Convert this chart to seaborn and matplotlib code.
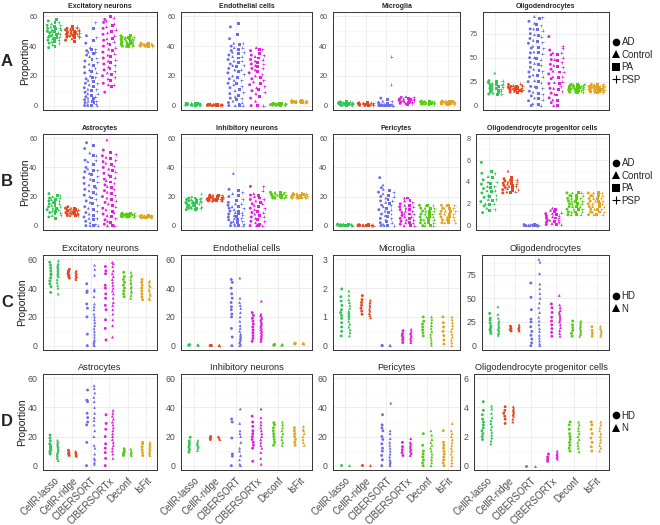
import numpy as np
import pandas as pd
import matplotlib
matplotlib.use("Agg")
import matplotlib.pyplot as plt
import seaborn as sns
from matplotlib.lines import Line2D
from matplotlib.ticker import MultipleLocator

METHODS = ["CellR-lasso", "CellR-ridge", "CIBERSORT", "CIBERSORTx", "Deconf", "IsFit"]
GROUPS_AB = ["AD", "Control", "PA", "PSP"]
GROUPS_CD = ["HD", "N"]

# estimated proportions, one list per group, per method
A_EXC = {
    "CellR-lasso": [[39, 42, 44, 46, 47, 49, 50, 52, 54, 57], [41, 43, 45, 47, 48, 50, 51, 53, 55],
                    [40, 43, 45, 46, 48, 50, 52, 53, 56, 58], [42, 44, 46, 48, 49, 51, 52, 54, 56]],
    "CellR-ridge": [[44, 46, 47, 48, 49, 50, 51, 52], [45, 47, 48, 49, 50, 51, 52],
                    [43, 46, 47, 48, 49, 50, 51, 53], [46, 47, 48, 49, 50, 51, 52, 53]],
    "CIBERSORT": [[0, 2, 4, 6, 9, 12, 15, 18, 22, 26, 30, 34, 37, 42, 47],
                  [0, 1, 3, 5, 8, 11, 14, 17, 20, 24, 28, 33, 36, 39],
                  [0, 2, 3, 5, 7, 10, 13, 16, 19, 23, 27, 31, 35, 38, 44, 52],
                  [0, 1, 3, 6, 8, 11, 15, 19, 22, 25, 29, 32, 36, 38, 46, 56]],
    "CIBERSORTx": [[9, 15, 20, 24, 28, 32, 36, 40, 44, 48, 52, 56, 58],
                   [14, 18, 22, 26, 30, 34, 38, 42, 45, 49, 53, 57],
                   [13, 17, 21, 25, 29, 33, 37, 41, 45, 50, 54, 60],
                   [14, 19, 23, 27, 31, 35, 39, 43, 47, 51, 55, 59]],
    "Deconf": [[40, 41, 42, 43, 44, 45, 46, 47], [40, 41, 42, 43, 44, 45, 46],
               [40, 41, 42, 43, 44, 45, 46, 47], [40, 41, 42, 43, 44, 45, 46]],
    "IsFit": [[40, 40.5, 41, 41.5, 42], [40, 40.5, 41, 41.5], [40, 40.5, 41, 41.5, 42], [40, 40.5, 41, 41.5]],
}
A_ENDO = {
    "CellR-lasso": [[0.3, 0.6, 0.9, 1.2, 1.5]] * 4,
    "CellR-ridge": [[0.1, 0.3, 0.5, 0.7, 0.9]] * 4,
    "CIBERSORT": [[0, 2, 5, 8, 12, 15, 18, 22, 25, 28, 31, 34, 37, 40, 45, 53],
                  [0, 3, 6, 10, 14, 17, 20, 24, 27, 30, 33, 36, 39, 42],
                  [0, 1, 4, 7, 11, 15, 19, 23, 26, 29, 32, 35, 38, 41, 48, 55],
                  [0, 2, 5, 9, 13, 17, 21, 24, 27, 30, 33, 36, 39, 42]],
    "CIBERSORTx": [[0, 5, 10, 14, 18, 22, 25, 28, 31, 34, 37], [3, 8, 12, 16, 20, 24, 27, 30, 33, 39],
                   [0, 6, 11, 15, 19, 23, 26, 29, 32, 35, 38], [0, 9, 13, 17, 21, 25, 28, 31, 34, 38]],
    "Deconf": [[0.3, 0.6, 0.9, 1.2, 1.5]] * 4,
    "IsFit": [[2.0, 2.3, 2.6, 2.9, 3.2]] * 4,
}
A_MICRO = {
    "CellR-lasso": [[0.3, 0.8, 1.2, 1.6, 2.0, 2.5]] * 4,
    "CellR-ridge": [[0.2, 0.6, 1.0, 1.4, 1.8]] * 4,
    "CIBERSORT": [[0, 0, 0.5, 1, 2, 5], [0, 0, 0.5, 1, 3], [0, 0, 0.5, 1.5, 4], [0, 0, 1, 3, 14, 33]],
    "CIBERSORTx": [[1.5, 2.5, 3.5, 4.5, 5.5], [1.5, 2.5, 3.5, 4.5, 6], [1, 2, 3, 4, 5], [1.5, 2.5, 3.5, 4.5, 5.5]],
    "Deconf": [[1, 1.5, 2, 2.5, 3]] * 4,
    "IsFit": [[1, 1.5, 2, 2.5, 3]] * 4,
}
A_OLIGO = {
    "CellR-lasso": [[12, 14, 16, 18, 20, 22, 24, 26], [13, 15, 17, 19, 21, 23, 34],
                    [12, 14, 16, 18, 20, 22, 25], [12, 15, 17, 19, 21, 23, 26]],
    "CellR-ridge": [[14, 16, 17, 18, 19, 20, 22], [15, 16, 17, 18, 19, 21],
                    [14, 16, 17, 18, 19, 20], [15, 16, 17, 18, 20, 21, 23]],
    "CIBERSORT": [[0, 5, 10, 15, 20, 25, 30, 35, 40, 45, 50, 55, 60, 65, 70, 75, 80, 88],
                  [2, 8, 14, 20, 26, 32, 38, 44, 50, 56, 62, 68, 74, 80, 86, 93],
                  [1, 7, 13, 19, 25, 31, 37, 43, 49, 55, 61, 67, 73, 79, 85, 91],
                  [0, 6, 12, 18, 24, 30, 36, 42, 48, 54, 60, 66, 72, 78, 84, 92]],
    "CIBERSORTx": [[3, 8, 13, 18, 23, 28, 33, 38, 43, 48, 53, 58, 72], [0, 6, 12, 18, 24, 30, 36, 42, 48, 55],
                   [0, 5, 11, 17, 23, 29, 35, 41, 47, 53], [15, 20, 25, 30, 35, 40, 45, 50, 55, 60, 62]],
    "Deconf": [[14, 16, 17, 18, 19, 20, 21, 22]] * 4,
    "IsFit": [[14, 15, 16, 17, 18, 19, 20, 21, 22]] * 4,
}
B_ASTRO = {
    "CellR-lasso": [[6, 9, 11, 13, 15, 17, 19, 22], [7, 10, 12, 14, 16, 18, 20],
                    [5, 8, 10, 12, 14, 16, 18, 21], [7, 9, 11, 13, 15, 17, 19, 21]],
    "CellR-ridge": [[7, 8, 9, 10, 11, 12, 13], [7, 8, 9, 10, 11, 12], [7, 8, 9, 10, 11, 12], [7, 8, 9, 10, 11]],
    "CIBERSORT": [[0, 3, 6, 9, 13, 17, 21, 25, 29, 33, 37, 40, 45, 53, 57],
                  [0, 2, 5, 8, 12, 16, 20, 24, 28, 32, 36, 39, 44, 50],
                  [0, 4, 7, 11, 15, 19, 23, 27, 31, 35, 38, 42, 48, 55],
                  [0, 1, 5, 10, 14, 18, 22, 26, 30, 34, 38, 45, 48]],
    "CIBERSORTx": [[1, 4, 8, 12, 16, 20, 24, 28, 32, 36, 40, 44, 48, 52],
                   [0, 3, 7, 11, 15, 19, 23, 27, 31, 35, 39, 43, 47, 59],
                   [0, 2, 6, 10, 14, 18, 22, 26, 30, 34, 38, 42, 46, 50],
                   [0, 5, 9, 13, 17, 21, 25, 29, 33, 37, 41, 45, 49]],
    "Deconf": [[6, 6.5, 7, 7.5, 8, 8.5]] * 4,
    "IsFit": [[5.5, 6, 6.5, 7]] * 4,
}
B_INH = {
    "CellR-lasso": [[11, 12, 13, 14, 15, 16, 17, 18, 19], [12, 13, 14, 15, 16, 17, 18, 20],
                    [11, 12, 14, 15, 16, 17, 18, 19], [12, 13, 15, 16, 17, 18, 19, 22]],
    "CellR-ridge": [[17, 17.5, 18, 18.5, 19, 19.5, 20, 21]] * 4,
    "CIBERSORT": [[0, 2, 4, 6, 8, 10, 12, 14, 16, 20, 25], [0, 1, 3, 5, 7, 9, 11, 13, 15, 22, 36],
                  [0, 2, 4, 6, 8, 10, 13, 17, 21, 24], [0, 1, 3, 5, 7, 9, 12, 15, 18, 23]],
    "CIBERSORTx": [[0, 3, 6, 9, 12, 15, 18, 21, 27], [0, 2, 5, 8, 11, 14, 17, 20, 22],
                   [0, 1, 4, 7, 10, 13, 16, 19, 21], [0, 3, 6, 9, 12, 15, 18, 24, 27]],
    "Deconf": [[19, 20, 21, 22, 23]] * 4,
    "IsFit": [[19, 19.5, 20, 20.5, 21, 21.5, 22]] * 4,
}
B_PERI = {
    "CellR-lasso": [[0, 0.3, 0.6, 1.0]] * 4,
    "CellR-ridge": [[0, 0.2, 0.4, 0.6]] * 4,
    "CIBERSORT": [[0, 2, 5, 8, 11, 14, 17, 20, 23, 26, 33], [0, 1, 4, 7, 10, 13, 16, 19, 22, 25, 28],
                  [0, 3, 6, 9, 12, 15, 18, 21, 24], [0, 2, 5, 8, 11, 14, 17, 20, 23]],
    "CIBERSORTx": [[1, 3, 5, 7, 9, 11, 13, 15], [0, 2, 4, 6, 8, 10, 12, 14, 17, 19],
                   [0, 2, 5, 8, 11, 14, 17, 19], [0, 2, 4, 6, 8, 10, 13, 16]],
    "Deconf": [[0, 2, 4, 6, 8, 10, 12, 14]] * 4,
    "IsFit": [[2, 4, 6, 8, 10, 12, 14]] * 4,
}
B_OPC = {
    "CellR-lasso": [[1.2, 1.8, 2.2, 2.6, 3, 3.4, 3.8, 4.2, 4.8, 5.8], [1.6, 2.0, 2.4, 2.8, 3.2, 3.6, 4.0, 4.5],
                    [1.4, 1.9, 2.3, 2.7, 3.1, 3.5, 3.9, 4.4, 5.0], [1.5, 2.0, 2.4, 2.8, 3.2, 3.6, 4.0, 4.8]],
    "CellR-ridge": [[3.0, 3.3, 3.5, 3.7, 3.9, 4.1, 4.3], [3.1, 3.4, 3.6, 3.8, 4.0, 4.2, 5.0],
                    [3.0, 3.2, 3.5, 3.7, 3.9, 4.1, 4.4], [3.1, 3.3, 3.6, 3.8, 4.0, 4.2]],
    "CIBERSORT": [[0, 0, 0.05, 0.1]] * 4,
    "CIBERSORTx": [[0.1, 0.3, 0.5, 0.7, 0.9, 1.1], [0.2, 0.5, 0.8, 1.1, 1.4, 1.6],
                   [0.1, 0.4, 0.7, 1.0, 1.3, 1.5], [0.1, 0.3, 0.5, 0.7, 0.9, 1.2]],
    "Deconf": [[1.0, 1.25, 1.5, 1.75, 2.0, 2.25, 2.5, 2.75, 3.0]] * 4,
    "IsFit": [[1.0, 1.25, 1.5, 1.75, 2.0, 2.25, 2.5, 2.75, 3.0]] * 4,
}
C_EXC = {
    "CellR-lasso": [[37, 41, 43, 45, 47, 49, 50, 52, 54, 56, 58],
                    [36, 40, 42, 44, 46, 48, 49, 50, 51, 52, 53, 54, 55, 56, 57, 59]],
    "CellR-ridge": [[47, 48, 49, 50, 51, 52, 53], [46, 47, 48, 49, 50, 51, 52]],
    "CIBERSORT": [[0, 8, 20, 26, 29, 37, 38, 43],
                  [0, 1, 2, 3, 4, 6, 8, 10, 12, 14, 16, 18, 20, 22, 25, 27, 29, 34, 38, 39, 49, 53, 56]],
    "CIBERSORTx": [[4, 12, 18, 25, 28, 33, 36, 40, 42, 50, 52, 55],
                   [6, 14, 18, 22, 25, 28, 30, 33, 36, 38, 40, 42, 44, 46, 48, 50, 52, 55, 57, 58]],
    "Deconf": [[34, 36, 38, 40, 42, 44, 46, 48, 51], [33, 35, 37, 38, 40, 41, 43, 44, 46, 48, 49, 51]],
    "IsFit": [[32, 34, 36, 38, 40, 42, 44, 46], [32, 33, 35, 36, 38, 39, 41, 42, 44, 45]],
}
C_ENDO = {
    "CellR-lasso": [[0.3, 0.5, 0.7], [0.3, 0.5, 0.7]],
    "CellR-ridge": [[0, 0.1, 0.2], [0, 0.1, 0.2]],
    "CIBERSORT": [[0, 6, 12, 20, 22, 25, 27, 30, 33, 36, 40, 44, 46],
                  [0, 1, 2, 3, 4, 5, 6, 7, 8, 10, 12, 14, 17, 20, 23, 26, 28, 30, 33, 47]],
    "CIBERSORTx": [[3, 5, 7, 9, 11, 13, 15, 17, 19, 21, 23],
                   [3, 4, 5, 6, 7, 8, 9, 10, 11, 12, 13, 14, 15, 16, 17, 18, 19, 20, 21, 22, 31]],
    "Deconf": [[0.3, 0.6, 0.9], [0.3, 0.6, 0.9]],
    "IsFit": [[1.2, 1.5, 1.8], [1.2, 1.5, 1.8]],
}
C_MICRO = {
    "CellR-lasso": [[0.34, 0.5, 0.65, 0.8, 0.95, 1.05, 1.15, 1.25, 1.4, 1.55, 1.7, 1.97],
                    [0.34, 0.45, 0.55, 0.65, 0.75, 0.85, 0.95, 1.0, 1.05, 1.1, 1.15, 1.2, 1.3, 1.4, 1.5, 1.6, 1.75, 1.9]],
    "CellR-ridge": [[1.09, 1.2, 1.3, 1.4, 1.5, 1.6, 1.74], [0.97, 1.05, 1.12, 1.2, 1.27, 1.35, 1.42, 1.5, 1.58]],
    "CIBERSORT": [[0, 0.01], [0, 0.01]],
    "CIBERSORTx": [[0.11, 0.2, 0.28, 0.35, 0.42, 0.52], [0.11, 0.18, 0.24, 0.3, 0.36, 0.42, 0.48, 0.57]],
    "Deconf": [[0.34, 0.45, 0.55, 0.65, 0.75, 0.85, 1.0], [0.02, 0.1, 0.2, 0.3, 0.4, 0.5, 0.6, 0.7, 0.8, 0.9, 1.0]],
    "IsFit": [[0.06, 0.2, 0.35, 0.5, 0.65, 0.8, 1.0], [0, 0.1, 0.2, 0.3, 0.4, 0.5, 0.6, 0.7, 0.8, 0.9, 1.0]],
}
C_OLIGO = {
    "CellR-lasso": [[13, 15, 17, 19, 21, 24, 27, 29, 34], [11, 13, 14, 16, 17, 19, 20, 22, 24, 26, 29, 33, 41]],
    "CellR-ridge": [[15.5, 17, 18.5, 20.5], [15.5, 17, 18, 19, 20, 22]],
    "CIBERSORT": [[0, 3, 7, 11, 15, 20, 25, 28, 38, 51, 66],
                  [0, 2, 5, 8, 11, 15, 18, 22, 26, 30, 35, 40, 45, 50, 55, 60, 65, 76, 88, 91]],
    "CIBERSORTx": [[10, 14, 18, 22, 26, 30, 35, 40, 44], [10, 13, 16, 19, 22, 25, 27, 29, 31, 33, 35, 37, 40, 43, 53]],
    "Deconf": [[10, 13, 16, 19, 22, 26], [10, 12, 14, 16, 18, 20, 22, 24, 26]],
    "IsFit": [[10, 13, 16, 20], [10, 12, 14, 16, 18, 20.5]],
}
D_ASTRO = {
    "CellR-lasso": [[8, 9, 10, 11, 12, 13, 14, 15, 17, 19, 21], [3.5, 5, 6, 7, 8, 9, 10, 11, 12, 13, 14, 15, 16, 17.4]],
    "CellR-ridge": [[7, 8, 9, 10.5], [6.5, 7, 7.5, 8, 8.5, 9, 9.8]],
    "CIBERSORT": [[0, 16, 28, 30, 33, 36, 44, 45, 52],
                  [1, 2, 4, 5, 8, 12, 14, 20, 24, 28, 31, 33, 36, 40, 44, 47, 50, 53, 55]],
    "CIBERSORTx": [[0, 5, 9, 12, 15, 20, 25, 29, 35], [5, 8, 10, 12, 14, 16, 18, 20, 22, 24, 26, 28, 30, 32, 34, 36, 38]],
    "Deconf": [[7, 8, 9, 10, 11.6], [7, 8, 9, 10, 11.5]],
    "IsFit": [[7, 9, 11, 13, 15, 16], [7, 8, 9, 10, 11, 12, 13, 14, 15, 16]],
}
D_INH = {
    "CellR-lasso": [[9.3, 11, 12.5, 14, 15.5, 17, 19.5], [10.5, 12, 13, 14, 15, 16, 17.4]],
    "CellR-ridge": [[18, 19, 20], [18, 19, 20]],
    "CIBERSORT": [[0, 6.5, 8, 19, 30, 32], [0, 1, 4, 7, 10, 12, 16, 20, 22, 24, 29, 39]],
    "CIBERSORTx": [[3, 12, 14, 16, 18, 20, 22, 24, 27, 30, 34], [1, 5, 9, 12, 14, 16, 18, 20, 22, 24, 26, 28, 30, 33, 39]],
    "Deconf": [[14, 16, 18, 20, 22, 24, 26, 28, 29.5], [14, 16, 18, 20, 22, 24, 26, 28, 30]],
    "IsFit": [[14, 16, 18, 20, 22, 24, 26], [14, 16, 18, 20, 22, 24, 25, 27]],
}
D_PERI = {
    "CellR-lasso": [[0.3], [0.3]],
    "CellR-ridge": [[0.3], [0.3]],
    "CIBERSORT": [[0, 4, 7, 10, 12, 15, 18, 20, 24, 26, 28, 35], [0, 1, 2, 3, 4, 6, 8, 10, 12, 14, 16, 18.6, 22, 24, 43]],
    "CIBERSORTx": [[7, 9, 11, 13, 16], [7, 8, 9, 10, 11, 12, 13, 14, 15, 16, 18.6]],
    "Deconf": [[0, 2, 4, 6, 8, 10, 14, 22], [0, 2, 4, 6, 8, 10, 12, 14, 16, 18, 21, 24]],
    "IsFit": [[0, 2, 4, 6, 8, 10, 12, 14, 16, 24], [0, 2, 4, 6, 8, 10, 12, 14, 16, 18, 20, 22, 24, 29]],
}
D_OPC = {
    "CellR-lasso": [[1.8, 2.0, 2.2, 2.4, 2.6, 2.8, 3.0, 3.2, 3.5, 3.8, 4.4],
                    [1.5, 1.7, 1.9, 2.1, 2.3, 2.5, 2.7, 2.9, 3.1, 3.3, 3.6, 3.9, 4.1]],
    "CellR-ridge": [[2.9, 3.2, 3.4, 3.6, 3.8, 4.05], [3.0, 3.2, 3.4, 3.5, 3.6, 3.7, 3.8, 3.9, 4.05]],
    "CIBERSORT": [[0], [0]],
    "CIBERSORTx": [[0.3, 0.45, 0.6, 0.8], [0.45, 0.55, 0.65, 0.75, 0.85, 1.0]],
    "Deconf": [[1.0, 1.2, 1.4, 1.6, 1.8, 2.0, 2.2, 2.5, 2.8, 3.0], [0.95, 1.2, 1.4, 1.6, 1.8, 2.0, 2.2, 2.4, 2.6, 2.8, 3.0]],
    "IsFit": [[1.0, 1.3, 1.6, 1.9, 2.2, 2.5, 2.8, 3.0], [1.0, 1.2, 1.4, 1.6, 1.8, 2.0, 2.2, 2.4, 2.6, 2.8, 3.0]],
}

# row letter, groups, panels (title, data, fixed y top or None, tick step)
ROWS = [
    ("A", GROUPS_AB, [("Excitatory neurons", A_EXC, 60, 20), ("Endothelial cells", A_ENDO, 60, 20),
                      ("Microglia", A_MICRO, 60, 20), ("Oligodendrocytes", A_OLIGO, None, 25)]),
    ("B", GROUPS_AB, [("Astrocytes", B_ASTRO, 60, 20), ("Inhibitory neurons", B_INH, 60, 20),
                      ("Pericytes", B_PERI, 60, 20), ("Oligodendrocyte progenitor cells", B_OPC, 8, 2)]),
    ("C", GROUPS_CD, [("Excitatory neurons", C_EXC, 60, 20), ("Endothelial cells", C_ENDO, 60, 20),
                      ("Microglia", C_MICRO, 3, 1), ("Oligodendrocytes", C_OLIGO, None, 25)]),
    ("D", GROUPS_CD, [("Astrocytes", D_ASTRO, 60, 20), ("Inhibitory neurons", D_INH, 60, 20),
                      ("Pericytes", D_PERI, 60, 20), ("Oligodendrocyte progenitor cells", D_OPC, 6, 2)]),
]

METHOD_COLORS = ["#2DC653", "#E4471E", "#6C6CEB", "#E21CE0", "#55CC12", "#E2A41C"]
MARKERS = {"AD": "o", "Control": "^", "PA": "s", "PSP": "+", "HD": "o", "N": "^"}

sns.set_theme(style="white")
plt.rcParams["font.family"] = ["Liberation Sans", "DejaVu Sans"]

W, H = 660, 525
fig = plt.figure(figsize=(6.6, 5.25), dpi=100)

ROW_Y = {"A": (12, 110), "B": (134, 230), "C": (255, 350), "D": (374, 470)}
COL_X = [(43, 157), (181, 312), (333, 460), (None, 609)]
COL4_LEFT = {"A": 483, "B": 476, "C": 482, "D": 474}


def to_frame(values, groups):
    rows = []
    for m, per_group in values.items():
        for g, vals in zip(groups, per_group):
            for v in vals:
                rows.append((m, g, v))
    return pd.DataFrame(rows, columns=["method", "group", "value"])


np.random.seed(3)
for letter, groups, panels in ROWS:
    top, bottom = ROW_Y[letter]
    small = letter in ("A", "B")
    for ci, (title, values, ytop, step) in enumerate(panels):
        left, right = COL_X[ci]
        if ci == 3:
            left = COL4_LEFT[letter]
        ax = fig.add_axes([left / W, 1 - bottom / H, (right - left) / W, (bottom - top) / H])
        df = to_frame(values, groups)
        for g in groups:
            n0 = len(ax.collections)
            sns.stripplot(data=df[df["group"] == g], x="method", y="value",
                          hue="group", order=METHODS, hue_order=groups, dodge=True,
                          jitter=0.32 if small else 0.07, marker=MARKERS[g], size=2.1,
                          linewidth=0.5 if g == "PSP" else 0, palette=["k"] * len(groups),
                          legend=False, ax=ax)
            # colour by method, shape by group
            for coll in ax.collections[n0:]:
                offs = coll.get_offsets()
                if len(offs) == 0:
                    continue
                cols = [METHOD_COLORS[int(i)] for i in np.rint(offs[:, 0])]
                coll.set_facecolors(cols)
                if g == "PSP":
                    coll.set_edgecolors(cols)

        ax.set_xlim(-0.6, 5.6)
        if ytop is not None:
            ax.set_ylim(-0.05 * ytop, 1.05 * ytop)
        ax.yaxis.set_major_locator(MultipleLocator(step))
        ax.yaxis.set_minor_locator(MultipleLocator(step / 2))
        ax.grid(True, which="major", color="#EBEBEB", lw=0.6)
        ax.grid(True, which="minor", axis="y", color="#F4F4F4", lw=0.4)
        ax.set_axisbelow(True)
        for sp in ax.spines.values():
            sp.set_color("#333333")
            sp.set_linewidth(0.7)
        ax.tick_params(axis="both", which="major", length=2.5, width=0.6, color="#333333",
                       labelsize=5.2 if small else 6.3, labelcolor="#4D4D4D", pad=1.5)
        ax.tick_params(axis="both", which="minor", length=0)
        ax.set_title(title, fontsize=5 if small else 6.7, fontweight="bold" if small else "normal", pad=3)
        ax.set_xlabel("")
        ax.set_xticks(range(len(METHODS)))
        if letter == "D":
            ax.set_xticklabels(METHODS, rotation=45, ha="right", rotation_mode="anchor",
                               fontsize=7, color="#4D4D4D")
        else:
            ax.set_xticklabels([])
        if ci == 0:
            ax.set_ylabel("Proportion", fontsize=7.5, color="#1A1A1A")
            label_x = 30 if small else 27
            ax.yaxis.set_label_coords((label_x - left) / (right - left), 0.5)
        else:
            ax.set_ylabel("")
        if ci == 3:
            handles = [Line2D([], [], ls="none", marker=MARKERS[g], color="black",
                              markersize=5.5, markeredgewidth=0.8 if g == "PSP" else 0) for g in groups]
            ax.legend(handles, groups, loc="center left", bbox_to_anchor=(1.0, 0.5), frameon=False,
                      fontsize=7, handlelength=0.8, handletextpad=0.2, labelspacing=0.25,
                      borderaxespad=0.1, borderpad=0.2)
    fig.text(7 / W, 1 - ((top + bottom) / 2) / H, letter, fontsize=12, fontweight="bold",
             ha="center", va="center")

fig.savefig("out.png", dpi=100)
